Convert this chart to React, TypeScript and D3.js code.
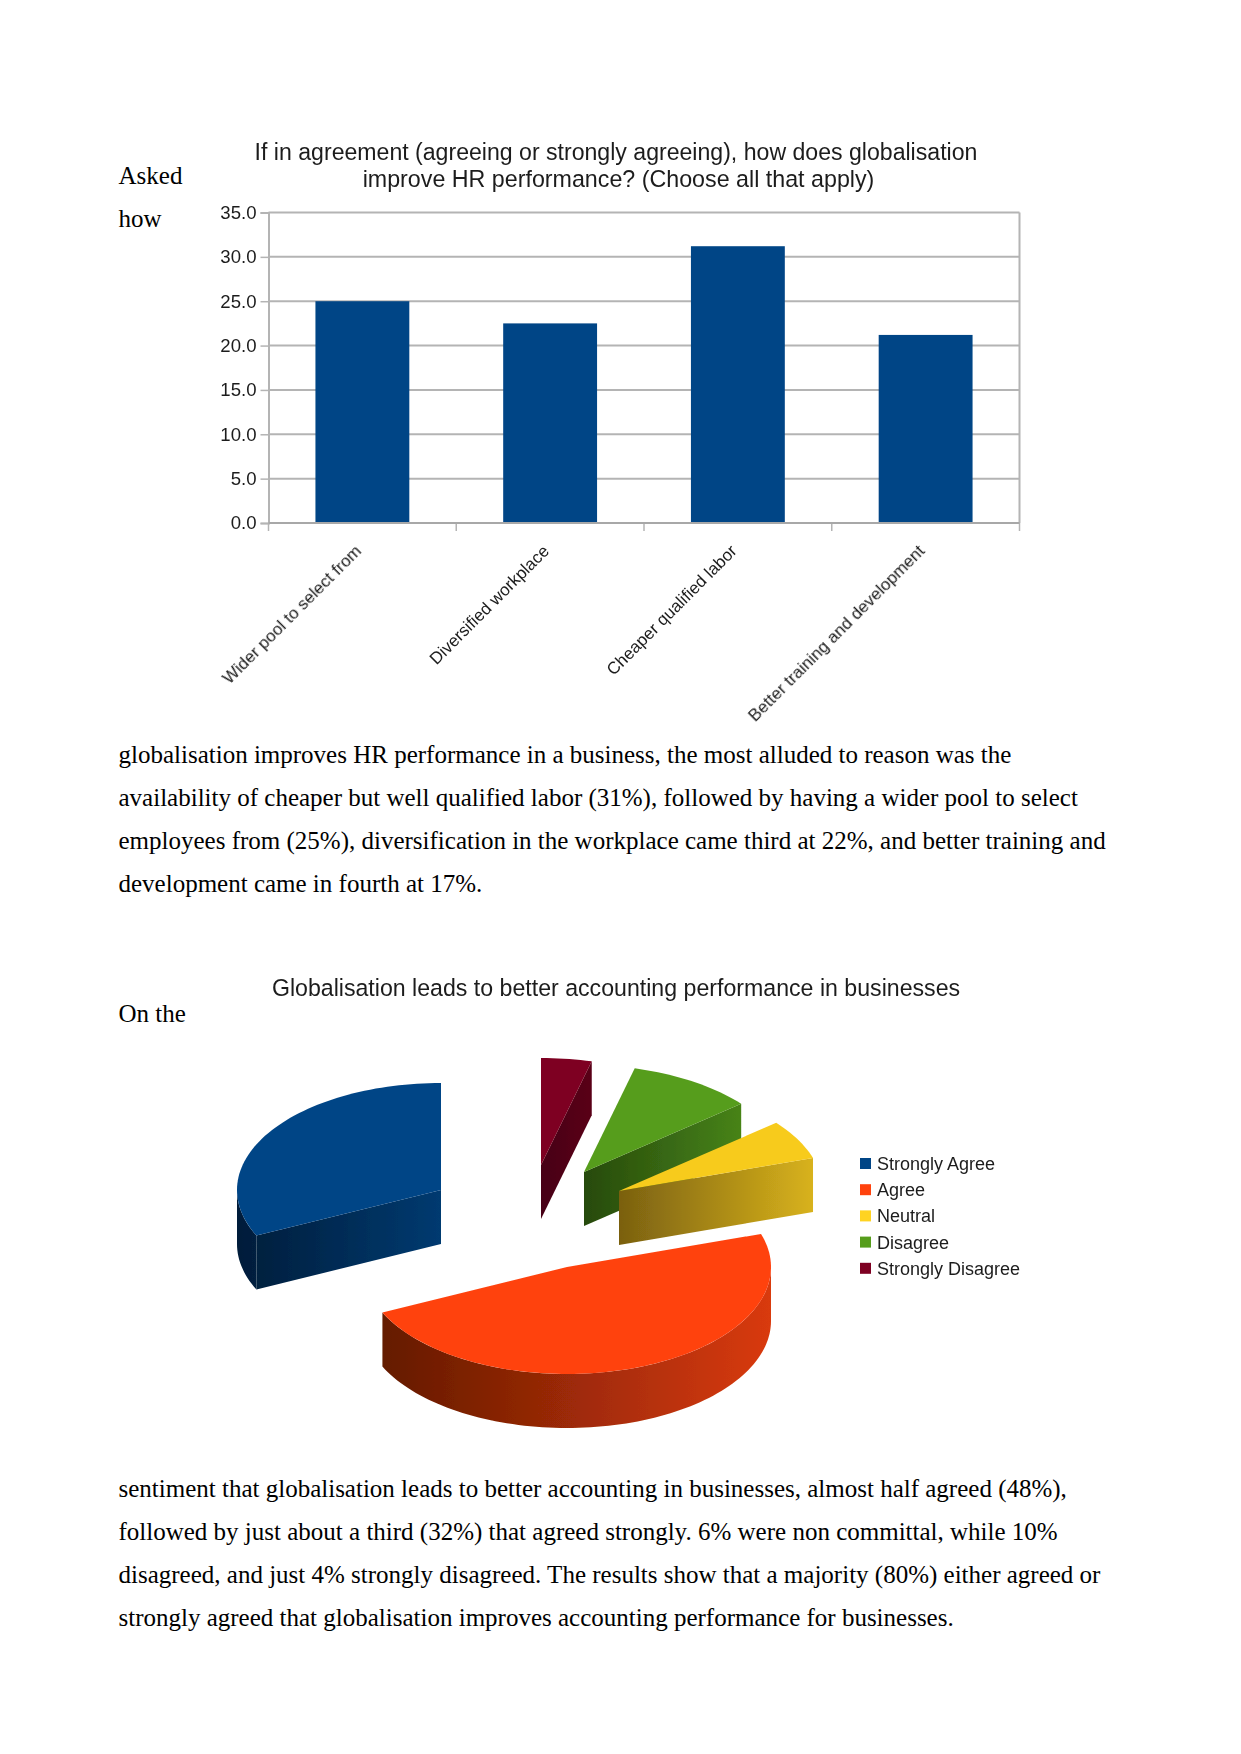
import React, { useRef, useEffect } from 'react';
import * as d3 from 'd3';

// bar chart values
const barTitle = [
  'If in agreement (agreeing or strongly agreeing), how does globalisation',
  'improve HR performance? (Choose all that apply)',
];
const barCategories = [
  'Wider pool to select from',
  'Diversified workplace',
  'Cheaper qualified labor',
  'Better training and development',
];
const barValues = [25.0, 22.5, 31.2, 21.2];
const barTicks = [0, 5, 10, 15, 20, 25, 30, 35];

// pie chart values
const pieTitle = 'Globalisation leads to better accounting performance in businesses';
const pieCategories = ['Strongly Agree', 'Agree', 'Neutral', 'Disagree', 'Strongly Disagree'];
const pieValues = [32, 48, 6, 10, 4];
const pieColors = ['#004586', '#ff420e', '#f7cb1e', '#579d1c', '#7e0021'];
const legendColors = ['#004586', '#ff420e', '#ffd320', '#579d1c', '#7e0021'];
const wallDark = ['#001d3a', '#641a02', '#7a6010', '#274a0c', '#470012'];
const wallLight = ['#003a70', '#d93a0c', '#d8b21c', '#478318', '#5a0018'];

// document text
const bodyLines: [string, number][] = [
  ['Asked', 183.5],
  ['how', 226.5],
  ['globalisation improves HR performance in a business, the most alluded to reason was the', 763],
  ['availability of cheaper but well qualified labor (31%), followed by having a wider pool to select', 806],
  ['employees from (25%), diversification in the workplace came third at 22%, and better training and', 849],
  ['development came in fourth at 17%.', 892],
  ['On the', 1022],
  ['sentiment that globalisation leads to better accounting in businesses, almost half agreed (48%),', 1497],
  ['followed by just about a third (32%) that agreed strongly. 6% were non committal, while 10%', 1540],
  ['disagreed, and just 4% strongly disagreed. The results show that a majority (80%) either agreed or', 1583],
  ['strongly agreed that globalisation improves accounting performance for businesses.', 1626],
];

const SANS = '"Liberation Sans", Arial, sans-serif';
const SERIF = '"Liberation Serif", "Times New Roman", serif';

const App = () => {
  const ref = useRef<SVGSVGElement>(null);

  useEffect(() => {
    const svg = d3.select(ref.current);
    svg.selectAll('*').remove();

    const defs = svg.append('defs');
    defs.append('filter').attr('id', 'soft')
      .attr('x', '-5%').attr('y', '-5%').attr('width', '110%').attr('height', '110%')
      .append('feGaussianBlur').attr('stdDeviation', 0.65);

    // body text
    svg.append('g').selectAll('text')
      .data(bodyLines)
      .join('text')
      .attr('x', 118.5)
      .attr('y', d => d[1])
      .attr('font-family', SERIF)
      .attr('font-size', 25)
      .attr('fill', '#000')
      .text(d => d[0]);

    // --- bar chart ---
    const left = 268.5, right = 1019.5, top = 212.5, bottom = 523;
    const x = d3.scaleBand().domain(barCategories).range([left, right]).paddingInner(0.5).paddingOuter(0.25);
    const xEdges = d3.scaleLinear().domain([0, barCategories.length]).range([left, right]);
    const y = d3.scaleLinear().domain([0, 35]).range([bottom, top]);
    const GRID = '#b4b4b4';

    const bar = svg.append('g').attr('filter', 'url(#soft)');

    bar.append('g').selectAll('text')
      .data(barTitle)
      .join('text')
      .attr('x', (_, i) => (i === 0 ? 616 : 618.5))
      .attr('y', (_, i) => 160 + i * 27)
      .attr('text-anchor', 'middle')
      .attr('font-family', SANS)
      .attr('font-size', (_, i) => (i === 0 ? 23.1 : 23.25))
      .attr('fill', '#1c1c1c')
      .text(d => d);

    bar.append('g').selectAll('line')
      .data(barTicks)
      .join('line')
      .attr('x1', left).attr('x2', right)
      .attr('y1', d => y(d)).attr('y2', d => y(d))
      .attr('stroke', GRID).attr('stroke-width', 2);

    bar.append('line')
      .attr('x1', right).attr('x2', right).attr('y1', top).attr('y2', bottom)
      .attr('stroke', GRID).attr('stroke-width', 2);

    bar.append('g').selectAll('rect')
      .data(barValues)
      .join('rect')
      .attr('x', (_, i) => x(barCategories[i])!)
      .attr('width', x.bandwidth())
      .attr('y', d => y(d))
      .attr('height', d => bottom - y(d))
      .attr('fill', '#004586');

    const yAxis = bar.append('g')
      .attr('transform', `translate(${left},0)`)
      .call(d3.axisLeft(y).tickValues(barTicks).tickFormat(d3.format('.1f') as any).tickSize(8).tickPadding(4));
    yAxis.selectAll('text')
      .attr('font-family', SANS).attr('font-size', 18.6).attr('fill', '#1c1c1c');
    yAxis.selectAll('line').attr('stroke', GRID).attr('stroke-width', 1.5);
    yAxis.select('.domain').attr('stroke', GRID).attr('stroke-width', 2);

    bar.append('g').selectAll('line')
      .data(d3.range(barCategories.length + 1))
      .join('line')
      .attr('x1', d => xEdges(d)).attr('x2', d => xEdges(d))
      .attr('y1', bottom).attr('y2', bottom + 8)
      .attr('stroke', GRID).attr('stroke-width', 1.5);
    bar.append('line')
      .attr('x1', left).attr('x2', right).attr('y1', bottom).attr('y2', bottom)
      .attr('stroke', '#a8a8a8').attr('stroke-width', 2);

    bar.append('g').selectAll('text')
      .data(barCategories)
      .join('text')
      .attr('transform', d => `translate(${x(d)! + x.bandwidth() / 2},552) rotate(-45)`)
      .attr('text-anchor', 'end')
      .attr('font-family', SANS)
      .attr('font-size', 17)
      .attr('fill', '#1c1c1c')
      .text(d => d);

    // --- exploded pie, drawn as a flattened ellipse with extruded walls ---
    const pie = svg.append('g').attr('filter', 'url(#soft)');

    pie.append('text')
      .attr('x', 616).attr('y', 996)
      .attr('text-anchor', 'middle')
      .attr('font-family', SANS)
      .attr('font-size', 23.15)
      .attr('fill', '#1c1c1c')
      .text(pieTitle);

    const rx = 204, ry = 107, depth = 54;
    // apex of each slice after the explosion
    const apexes: [number, number][] = [[441, 1190], [567, 1267], [619, 1191], [584, 1172], [541, 1165]];
    const arcs = d3.pie<number>().sort(null)(pieValues);

    const pt = (i: number, a: number, drop = 0): [number, number] => [
      apexes[i][0] - rx * Math.sin(a),
      apexes[i][1] - ry * Math.cos(a) + drop,
    ];
    const line = d3.line();
    const arcPts = (i: number, a0: number, a1: number, drop = 0) => {
      const n = Math.max(2, Math.ceil((a1 - a0) / 0.03));
      return d3.range(n + 1).map(k => pt(i, a0 + (a1 - a0) * k / n, drop));
    };

    // back slices first so yellow sits over the green wall
    [4, 3, 0, 2, 1].forEach(i => {
      const a0 = arcs[i].startAngle, a1 = arcs[i].endAngle;
      const g = pie.append('g');
      const gradId = `wall${i}`;
      const xs = [pt(i, a0)[0], pt(i, a1)[0], apexes[i][0]];
      const grad = defs.append('linearGradient').attr('id', gradId)
        .attr('gradientUnits', 'userSpaceOnUse')
        .attr('x1', i === 0 ? apexes[i][0] - rx : d3.min(xs)!)
        .attr('x2', i === 1 ? apexes[i][0] + rx : d3.max(xs)!)
        .attr('y1', 0).attr('y2', 0);
      grad.append('stop').attr('offset', 0).attr('stop-color', wallDark[i]);
      grad.append('stop').attr('offset', 1).attr('stop-color', wallLight[i]);
      const fill = `url(#${gradId})`;

      // cut faces: the one on the side facing the viewer
      const cuts = i === 0 ? [a1] : i === 1 ? [] : [a0];
      cuts.forEach(a => {
        const c = pt(i, a);
        const poly: [number, number][] = [apexes[i], c, [c[0], c[1] + depth], [apexes[i][0], apexes[i][1] + depth]];
        g.append('path').attr('d', line(poly)! + 'Z').attr('fill', fill);
      });

      // outer wall, only where the rim faces the viewer (lower half of the ellipse)
      const w0 = Math.max(a0, Math.PI / 2), w1 = Math.min(a1, Math.PI * 1.5);
      if (w1 > w0) {
        const pts = [...arcPts(i, w0, w1), ...arcPts(i, w0, w1, depth).reverse()];
        g.append('path').attr('d', line(pts)! + 'Z').attr('fill', fill);
      }

      // top face
      g.append('path')
        .attr('d', line([apexes[i], ...arcPts(i, a0, a1)])! + 'Z')
        .attr('fill', pieColors[i]);
    });

    const legend = pie.append('g').selectAll('g')
      .data(pieCategories)
      .join('g')
      .attr('transform', (_, i) => `translate(860,${1164 + i * 26.2})`);
    legend.append('rect')
      .attr('x', 0).attr('y', -6).attr('width', 11).attr('height', 11)
      .attr('fill', (_, i) => legendColors[i]);
    legend.append('text')
      .attr('x', 17).attr('y', 6)
      .attr('font-family', SANS)
      .attr('font-size', 18)
      .attr('fill', '#1c1c1c')
      .text(d => d);
  }, []);

  return (
    <svg
      ref={ref}
      width={1241}
      height={1754}
      style={{ position: 'absolute', left: 0, top: 0, background: '#fff' }}
    />
  );
};

export default App;
